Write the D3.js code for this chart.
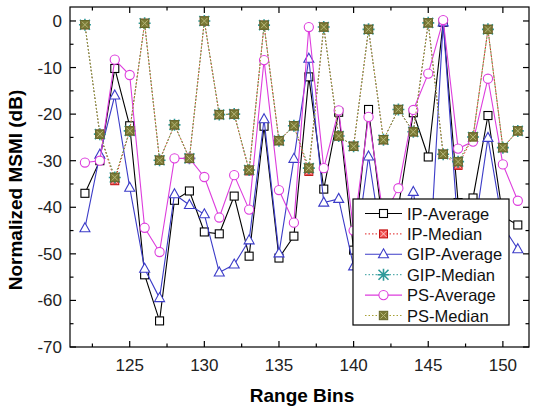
<!DOCTYPE html>
<html><head><meta charset="utf-8">
<script src="https://cdn.jsdelivr.net/npm/d3@7"></script>
<style>
html,body{margin:0;padding:0;background:#fff;}
svg{display:block;font-family:"Liberation Sans",Arial,sans-serif;}
</style></head>
<body>
<svg id="chart" width="533" height="408"></svg>
<script>
// ---- data ----
const bins = [122,123,124,125,126,127,128,129,130,131,132,133,134,135,136,137,138,139,140,141,142,143,144,145,146,147,148,149,150,151];
const ipAvg  = [-37,-30,-10.2,-22.5,-54.5,-64.4,-38.5,-36.5,-45.3,-45.7,-37.6,-50.5,-22.6,-50.9,-46.2,-12,-36.1,-19.6,-49.2,-19,-45,-40,-19.7,-29.2,-0.3,-39,-38,-20.3,-42,-43.8];
const ipMed  = [-0.8,-24.3,-34.3,-23.6,-0.5,-29.9,-22.3,-29.5,0,-20.1,-20,-32.2,-0.9,-25.7,-22.5,-32.3,-1.3,-24.7,-26.9,-1.8,-25.5,-19,-23.8,-0.4,-28.6,-31,-24.9,-1.8,-27.2,-23.6];
const gipAvg = [-44.5,-28.7,-16,-35.8,-53.2,-59.5,-37.2,-39.5,-41.5,-54,-52.3,-47.1,-21.1,-49.9,-29.6,-8.1,-39,-38.2,-52.7,-29.1,-50,-48,-36.7,-57,-0.3,-45,-47,-25.1,-44,-49];
const gipMed = [-0.8,-24.3,-33.6,-23.6,-0.5,-29.9,-22.3,-29.5,0,-20.1,-20,-32,-0.9,-25.7,-22.5,-31.6,-1.3,-24.7,-26.9,-1.8,-25.5,-19,-23.8,-0.4,-28.6,-30.2,-24.9,-1.8,-27.2,-23.6];
const psAvg  = [-30.4,-30,-8.3,-11.6,-44.4,-49.6,-29.5,-29.5,-33.5,-42.2,-33.1,-40.5,-8.4,-36.3,-43.3,-1.3,-31.6,-19.2,-45,-20.6,-42,-35.9,-19.1,-11.3,0.2,-27.4,-25.9,-12.4,-30.8,-38.6];
const psMed  = [-0.8,-24.3,-33.6,-23.6,-0.5,-29.9,-22.3,-29.5,0,-20.1,-20,-32,-0.9,-25.7,-22.5,-31.6,-1.3,-24.7,-26.9,-1.8,-25.5,-19,-23.8,-0.4,-28.6,-30.2,-24.9,-1.8,-27.2,-23.6];
const seriesNames = ["IP-Average","IP-Median","GIP-Average","GIP-Median","PS-Average","PS-Median"];
const xTicks = [125,130,135,140,145,150];
const xMinor = [122.5,127.5,132.5,137.5,142.5,147.5];
const yTicks = [0,-10,-20,-30,-40,-50,-60,-70];
const yMinor = [-5,-15,-25,-35,-45,-55,-65];

// ---- layout ----
const L=70, R=529, T=7, B=347;
const x = d3.scaleLinear().domain([121,151.75]).range([L,R]);
const y = d3.scaleLinear().domain([-70,3]).range([B,T]);
const svg = d3.select("#chart");

const styles = {
  "IP-Average":  {data:ipAvg,  color:"#000000", dash:null,  width:1.1, marker:"square"},
  "IP-Median":   {data:ipMed,  color:"#e02020", dash:"1.5,2", width:1, marker:"sqx"},
  "GIP-Average": {data:gipAvg, color:"#3c3cc8", dash:null,  width:1.1, marker:"triangle"},
  "GIP-Median":  {data:gipMed, color:"#2f9a9a", dash:"1.5,2", width:1, marker:"star"},
  "PS-Average":  {data:psAvg,  color:"#dd3ddd", dash:null,  width:1.1, marker:"circle"},
  "PS-Median":   {data:psMed,  color:"#a8a035", dash:"1.5,2", width:1, marker:"olive"}
};

function drawMarker(g, type, cx, cy, color){
  if(type==="square"){
    g.append("rect").attr("x",cx-4).attr("y",cy-4).attr("width",8).attr("height",8)
      .attr("fill","#fff").attr("stroke",color).attr("stroke-width",1.1);
  } else if(type==="triangle"){
    g.append("path").attr("d",`M${cx},${cy-5.5}L${cx+5},${cy+3.5}L${cx-5},${cy+3.5}Z`)
      .attr("fill","#fff").attr("stroke",color).attr("stroke-width",1.1);
  } else if(type==="circle"){
    g.append("circle").attr("cx",cx).attr("cy",cy).attr("r",4.6)
      .attr("fill","#fff").attr("stroke",color).attr("stroke-width",1.1);
  } else if(type==="sqx"){
    g.append("rect").attr("x",cx-4).attr("y",cy-4).attr("width",8).attr("height",8)
      .attr("fill","#f05050").attr("stroke","#c01010").attr("stroke-width",1);
    g.append("path").attr("d",`M${cx-3},${cy-3}L${cx+3},${cy+3}M${cx+3},${cy-3}L${cx-3},${cy+3}`)
      .attr("stroke","#ffd0d0").attr("stroke-width",1);
  } else if(type==="star"){
    g.append("path").attr("d",`M${cx-5},${cy-5}L${cx+5},${cy+5}M${cx+5},${cy-5}L${cx-5},${cy+5}M${cx},${cy-6}L${cx},${cy+6}M${cx-6},${cy}L${cx+6},${cy}`)
      .attr("stroke",color).attr("stroke-width",1.6);
  } else if(type==="olive"){
    g.append("rect").attr("x",cx-4.2).attr("y",cy-4.2).attr("width",8.4).attr("height",8.4)
      .attr("fill","#7a7a35").attr("stroke","#66662a").attr("stroke-width",1);
    g.append("path").attr("d",`M${cx-3},${cy-3}L${cx+3},${cy+3}M${cx+3},${cy-3}L${cx-3},${cy+3}`)
      .attr("stroke","#b5b57a").attr("stroke-width",1);
  }
}

// ---- series ----
const line = d3.line().x((d,i)=>x(bins[i])).y(d=>y(d));
const plot = svg.append("g");
seriesNames.forEach(name=>{
  const s = styles[name];
  const g = plot.append("g");
  g.append("path").datum(s.data).attr("d",line).attr("fill","none")
    .attr("stroke",s.color).attr("stroke-width",s.width)
    .attr("stroke-dasharray",s.dash);
  s.data.forEach((v,i)=>drawMarker(g, s.marker, x(bins[i]), y(v), s.color));
});

// ---- frame and ticks ----
const ax = svg.append("g").attr("stroke","#000").attr("stroke-width",1.2);
ax.append("rect").attr("x",L).attr("y",T).attr("width",R-L).attr("height",B-T).attr("fill","none");
xTicks.forEach(t=>{
  ax.append("line").attr("x1",x(t)).attr("x2",x(t)).attr("y1",B).attr("y2",B-6);
  ax.append("line").attr("x1",x(t)).attr("x2",x(t)).attr("y1",T).attr("y2",T+6);
});
xMinor.forEach(t=>{
  ax.append("line").attr("x1",x(t)).attr("x2",x(t)).attr("y1",B).attr("y2",B-3.5);
  ax.append("line").attr("x1",x(t)).attr("x2",x(t)).attr("y1",T).attr("y2",T+3.5);
});
yTicks.forEach(t=>{
  ax.append("line").attr("x1",L).attr("x2",L+6).attr("y1",y(t)).attr("y2",y(t));
  ax.append("line").attr("x1",R).attr("x2",R-6).attr("y1",y(t)).attr("y2",y(t));
});
yMinor.forEach(t=>{
  ax.append("line").attr("x1",L).attr("x2",L+3.5).attr("y1",y(t)).attr("y2",y(t));
  ax.append("line").attr("x1",R).attr("x2",R-3.5).attr("y1",y(t)).attr("y2",y(t));
});

// tick labels
svg.append("g").selectAll("text").data(xTicks).join("text")
  .attr("x",d=>x(d)).attr("y",371).attr("text-anchor","middle")
  .attr("font-size",17).attr("fill","#222").text(d=>d);
svg.append("g").selectAll("text").data(yTicks).join("text")
  .attr("x",62).attr("y",d=>y(d)+6).attr("text-anchor","end")
  .attr("font-size",17).attr("fill","#222").text(d=>d);

// axis titles
svg.append("text").attr("x",302).attr("y",402).attr("text-anchor","middle")
  .attr("font-size",19).attr("font-weight","bold").text("Range Bins");
svg.append("text").attr("transform","translate(22,190) rotate(-90)").attr("text-anchor","middle")
  .attr("font-size",19).attr("font-weight","bold").text("Normalized MSMI (dB)");

// ---- legend ----
const lg = svg.append("g");
lg.append("rect").attr("x",353).attr("y",199).attr("width",156).attr("height",126)
  .attr("fill","#fff").attr("stroke","#000").attr("stroke-width",1.2);
seriesNames.forEach((name,i)=>{
  const s = styles[name];
  const cy = 213.5 + i*20.4;
  lg.append("line").attr("x1",365).attr("x2",402).attr("y1",cy).attr("y2",cy)
    .attr("stroke",s.color).attr("stroke-width",s.width).attr("stroke-dasharray",s.dash);
  drawMarker(lg, s.marker, 383.5, cy, s.color);
  lg.append("text").attr("x",407).attr("y",cy+6).attr("font-size",16.5).attr("fill","#111").text(name);
});
</script>
</body></html>
